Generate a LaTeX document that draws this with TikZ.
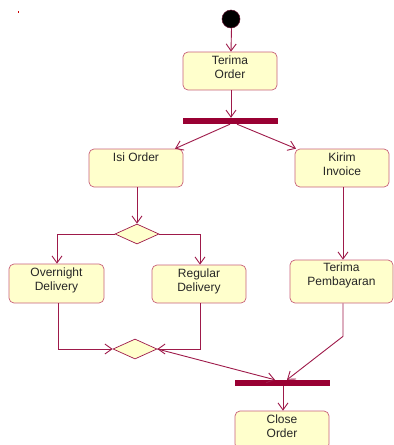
\documentclass[tikz,border=0pt]{standalone}
\usepackage{fontspec}
\setmainfont{Liberation Sans}
\usetikzlibrary{arrows.meta,shapes.geometric}
\definecolor{wire}{HTML}{9E1A4A}
\definecolor{barfill}{HTML}{990033}
\definecolor{boxline}{HTML}{C8607A}
\definecolor{boxfill}{HTML}{FFFFCC}
\begin{document}
\begin{tikzpicture}[x=1pt,y=-1pt,
  flow/.style={draw=wire,line width=0.9pt,-{Straight Barb[length=7pt,width=10pt,line width=0.9pt]}},
  activity/.style={draw=boxline,fill=boxfill,line width=0.7pt,rounded corners=5pt,
    minimum width=94pt,minimum height=38pt,inner sep=0pt},
  caption/.style={anchor=north,align=center,font=\fontsize{12}{14}\selectfont,
    inner sep=0pt,text=black!85},
  bar/.style={fill=barfill,draw=none,minimum width=95pt,minimum height=6pt,inner sep=0pt},
  choice/.style={diamond,draw=wire,fill=boxfill,line width=0.7pt,aspect=2.2,
    minimum width=44pt,minimum height=20pt,inner sep=0pt}]
\useasboundingbox (0,0) rectangle (394,445);
\clip (0,0) rectangle (394,445);

% small stray mark
\fill[red!80!black] (17.5,11) rectangle (19,13);

% start state
\node[circle,fill=black,draw=wire!60!black,line width=0.5pt,minimum size=18pt,inner sep=0pt] (start) at (231,19) {};

% activities (captions hang from the top edge of each box)
\node[activity] (terima) at (230,71) {};
\node[caption] (terimaT) at ([yshift=-4pt]terima.north) {Terima\\Order};
\node[bar] (fork) at (230.5,121) {};
\node[activity] (isi) at (136,168) {};
\node[caption] (isiT) at ([yshift=-4pt]isi.north) {Isi Order};
\node[activity] (kirim) at (342,168) {};
\node[caption] (kirimT) at ([yshift=-4pt]kirim.north) {Kirim\\Invoice};
\node[choice] (dec) at (137,234) {};
\node[activity,minimum width=95pt,minimum height=39pt] (over) at (56.5,283.5) {};
\node[caption] (overT) at ([yshift=-3.5pt]over.north) {Overnight\\Delivery};
\node[activity] (reg) at (199,284) {};
\node[caption] (regT) at ([yshift=-4pt]reg.north) {Regular\\Delivery};
\node[activity,minimum width=103pt,minimum height=43pt] (bayar) at (341.5,281.5) {};
\node[caption] (bayarT) at ([yshift=-3pt]bayar.north) {Terima\\Pembayaran};
\node[choice] (merge) at (135,349) {};
\node[bar] (join) at (282.5,383) {};
\node[activity] (close) at (282,430) {};
\node[caption] (closeT) at ([yshift=-4pt]close.north) {Close\\Order};

% transitions
\draw[flow] ([xshift=0.5pt]start.south) -- ([xshift=1pt]terima.north);
\draw[flow] ([xshift=1pt]terima.south) -- ([xshift=0.5pt]fork.north);
\draw[flow] ([xshift=-0.5pt]fork.south) -- ([xshift=39pt]isi.north);
\draw[flow] ([xshift=6.5pt]fork.south) -- ([xshift=-46pt]kirim.north);
\draw[flow] ([xshift=1pt]isi.south) -- (dec.north);
\draw[flow] (dec.west) -| ([xshift=0.5pt]over.north);
\draw[flow] (dec.east) -| ([xshift=1pt]reg.north);
\draw[flow] ([xshift=1pt]kirim.south) -- ([xshift=1.5pt]bayar.north);
\draw[flow] ([xshift=1.5pt]over.south) |- (merge.west);
\draw[flow] ([xshift=1pt]reg.south) |- (merge.east);
\draw[flow] (merge.east) -- ([xshift=-7.5pt]join.north);
\coordinate (bend) at ([xshift=1.5pt,yshift=-33pt]bayar.south);
\draw[flow] ([xshift=1.5pt]bayar.south) -- (bend) -- ([xshift=4.5pt]join.north);
\draw[flow] ([xshift=0.5pt]join.south) -- ([xshift=1pt]close.north);
\end{tikzpicture}
\end{document}
